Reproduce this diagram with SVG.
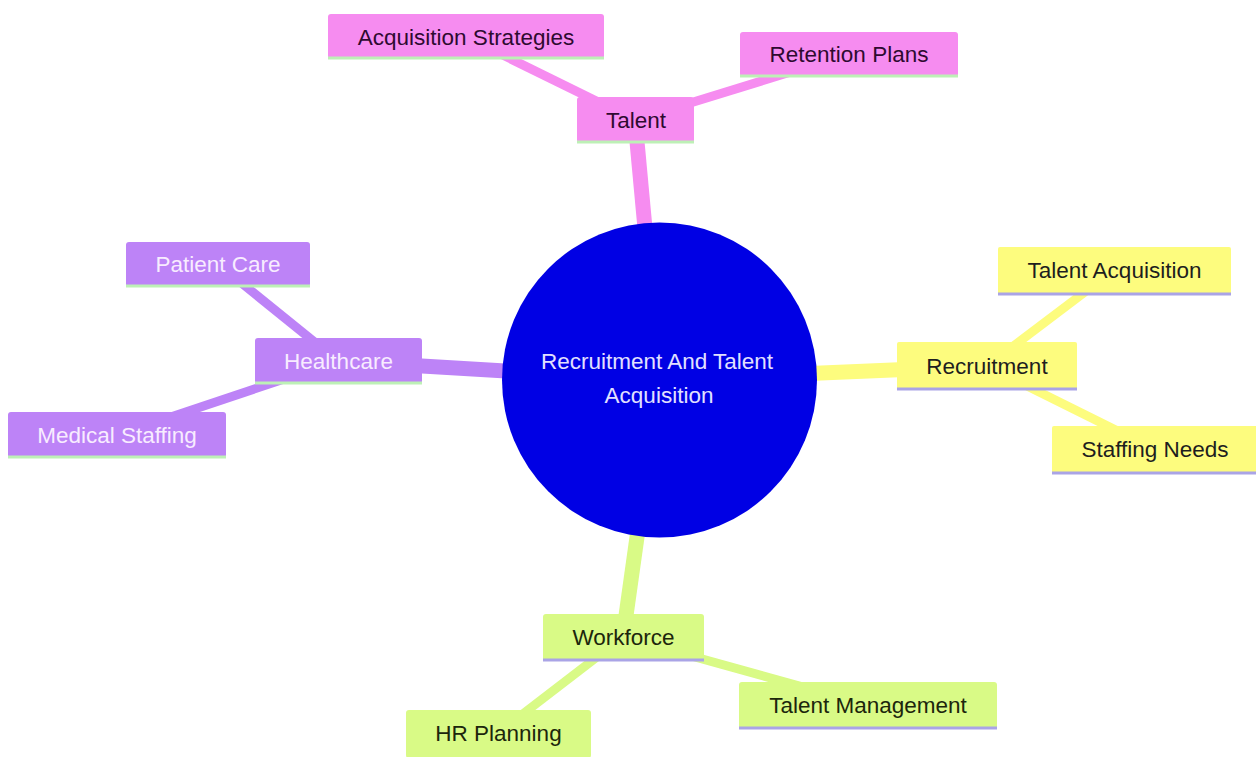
<svg xmlns="http://www.w3.org/2000/svg" width="1256" height="757" viewBox="0 0 1256 757">
<style>
text{font-family:"Liberation Sans",Arial,sans-serif;font-size:22.5px;text-anchor:middle}
.pink{fill:#f68cf0}.purple{fill:#bd83f7}.yellow{fill:#fdfc7e}.green{fill:#d9fa86}
.tpink{fill:#2e0a30}.tpurple{fill:#f8ecff}.tyellow{fill:#1e1e1e}.tgreen{fill:#1c260c}
.lgreen{stroke:#bdf0b6;stroke-width:3}.llav{stroke:#aaa4e6;stroke-width:3}
.e{fill:none;stroke-linecap:butt}
.e1{stroke-width:15}.e2{stroke-width:9}
.sp{stroke:#f68cf0}.su{stroke:#bd83f7}.sy{stroke:#fdfc7e}.sg{stroke:#d9fa86}
</style>
<rect width="1256" height="757" fill="#ffffff"/>
<g id="connectors">
<line class="e e1 sp" x1="635" y1="120" x2="659" y2="380"/>
<line class="e e2 sp" x1="466" y1="37" x2="635" y2="120"/>
<line class="e e2 sp" x1="849" y1="54" x2="635" y2="120"/>
<line class="e e1 su" x1="338" y1="361" x2="659" y2="380"/>
<line class="e e2 su" x1="218" y1="264" x2="338" y2="361"/>
<line class="e e2 su" x1="117" y1="435" x2="338" y2="361"/>
<line class="e e1 sy" x1="987" y1="366" x2="659" y2="380"/>
<line class="e e2 sy" x1="1114" y1="270" x2="987" y2="366"/>
<line class="e e2 sy" x1="1154" y1="449" x2="987" y2="366"/>
<line class="e e1 sg" x1="623" y1="637" x2="659" y2="380"/>
<line class="e e2 sg" x1="868" y1="705" x2="623" y2="637"/>
<line class="e e2 sg" x1="498" y1="733" x2="623" y2="637"/>
</g>
<g id="root">
<circle cx="659.5" cy="380" r="157.5" fill="#0000e4"/>
<text x="657" y="369" fill="#e2e0ff">Recruitment And Talent</text>
<text x="659" y="403" fill="#e2e0ff">Acquisition</text>
</g>
<g id="talent">
<rect class="pink" x="577" y="97" width="117" height="46" rx="3"/>
<line class="lgreen" x1="577" y1="142" x2="694" y2="142"/>
<text class="tpink" x="636" y="128">Talent</text>
</g>
<g id="acquisition-strategies">
<rect class="pink" x="328" y="14" width="276" height="45" rx="3"/>
<line class="lgreen" x1="328" y1="58" x2="604" y2="58"/>
<text class="tpink" x="466" y="45">Acquisition Strategies</text>
</g>
<g id="retention-plans">
<rect class="pink" x="740" y="32" width="218" height="45" rx="3"/>
<line class="lgreen" x1="740" y1="76" x2="958" y2="76"/>
<text class="tpink" x="849" y="62">Retention Plans</text>
</g>
<g id="healthcare">
<rect class="purple" x="255" y="338" width="167" height="46" rx="3"/>
<line class="lgreen" x1="255" y1="383" x2="422" y2="383"/>
<text class="tpurple" x="338.5" y="369">Healthcare</text>
</g>
<g id="patient-care">
<rect class="purple" x="126" y="242" width="184" height="45" rx="3"/>
<line class="lgreen" x1="126" y1="286" x2="310" y2="286"/>
<text class="tpurple" x="218" y="272">Patient Care</text>
</g>
<g id="medical-staffing">
<rect class="purple" x="8" y="412" width="218" height="46" rx="3"/>
<line class="lgreen" x1="8" y1="457" x2="226" y2="457"/>
<text class="tpurple" x="117" y="443">Medical Staffing</text>
</g>
<g id="recruitment">
<rect class="yellow" x="897" y="342" width="180" height="48" rx="2"/>
<line class="llav" x1="897" y1="389" x2="1077" y2="389"/>
<text class="tyellow" x="987" y="374">Recruitment</text>
</g>
<g id="talent-acquisition">
<rect class="yellow" x="998" y="247" width="233" height="48" rx="2"/>
<line class="llav" x1="998" y1="294" x2="1231" y2="294"/>
<text class="tyellow" x="1114.5" y="278">Talent Acquisition</text>
</g>
<g id="staffing-needs">
<rect class="yellow" x="1052" y="426" width="206" height="48" rx="2"/>
<line class="llav" x1="1052" y1="473" x2="1258" y2="473"/>
<text class="tyellow" x="1155" y="457">Staffing Needs</text>
</g>
<g id="workforce">
<rect class="green" x="543" y="614" width="161" height="47" rx="3"/>
<line class="llav" x1="543" y1="660" x2="704" y2="660"/>
<text class="tgreen" x="623.5" y="645">Workforce</text>
</g>
<g id="talent-management">
<rect class="green" x="739" y="682" width="258" height="47" rx="3"/>
<line class="llav" x1="739" y1="728" x2="997" y2="728"/>
<text class="tgreen" x="868" y="713">Talent Management</text>
</g>
<g id="hr-planning">
<rect class="green" x="406" y="710" width="185" height="48" rx="3"/>
<text class="tgreen" x="498.5" y="741">HR Planning</text>
</g>
</svg>
